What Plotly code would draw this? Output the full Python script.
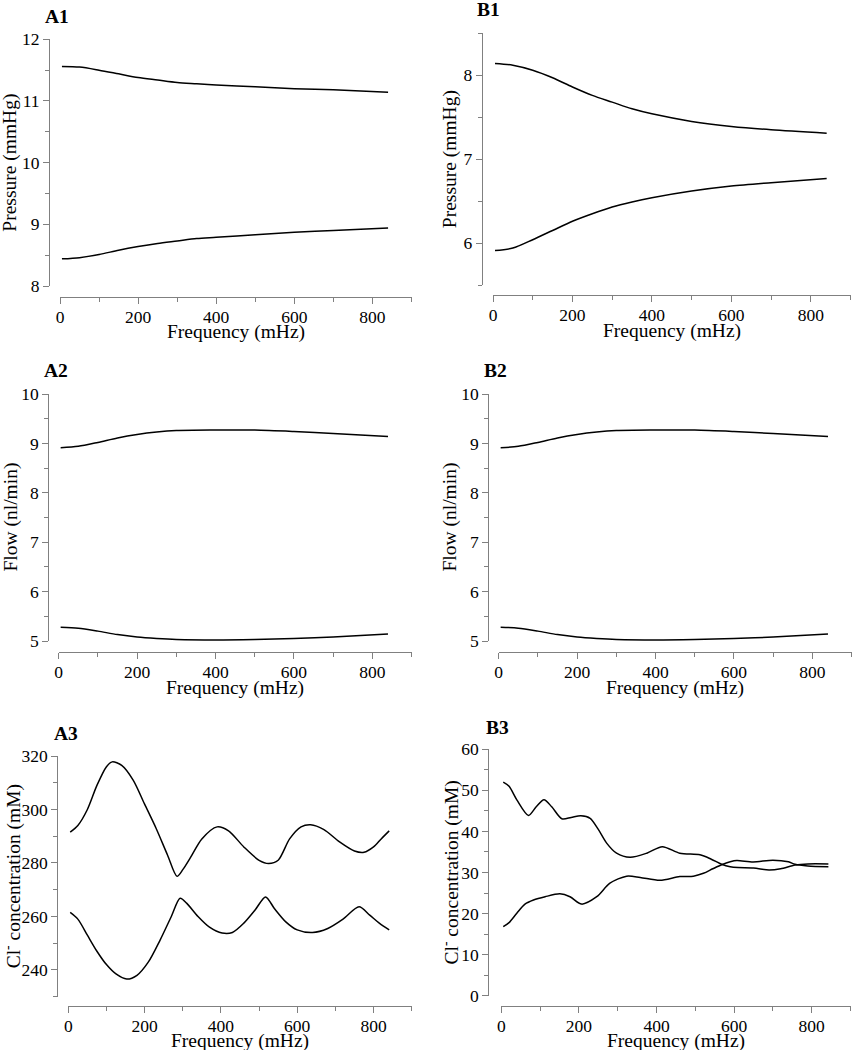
import plotly.graph_objects as go

# ---------------- data ----------------
a1_freq = [5, 50, 100, 150, 200, 250, 300, 350, 400, 500, 600, 700, 840]
a1_upper = [11.56, 11.55, 11.50, 11.44, 11.38, 11.34, 11.30, 11.28, 11.26, 11.23, 11.20, 11.18, 11.14]
a1_lower = [8.44, 8.46, 8.51, 8.58, 8.64, 8.69, 8.73, 8.77, 8.79, 8.83, 8.87, 8.90, 8.94]

b1_freq = [5, 50, 100, 150, 200, 250, 300, 350, 400, 500, 600, 700, 840]
b1_upper = [8.14, 8.12, 8.06, 7.97, 7.86, 7.76, 7.68, 7.60, 7.54, 7.45, 7.39, 7.35, 7.31]
b1_lower = [5.91, 5.94, 6.04, 6.15, 6.26, 6.35, 6.43, 6.49, 6.54, 6.62, 6.68, 6.72, 6.77]

a2_freq = [5, 50, 100, 150, 200, 250, 300, 400, 500, 600, 700, 840]
a2_upper = [8.91, 8.94, 9.02, 9.11, 9.18, 9.23, 9.26, 9.27, 9.27, 9.24, 9.20, 9.14]
a2_lower = [5.28, 5.26, 5.20, 5.13, 5.08, 5.05, 5.03, 5.02, 5.03, 5.05, 5.08, 5.14]

b2_freq = [5, 50, 100, 150, 200, 250, 300, 400, 500, 600, 700, 840]
b2_upper = [8.91, 8.94, 9.02, 9.11, 9.18, 9.23, 9.26, 9.27, 9.27, 9.24, 9.20, 9.14]
b2_lower = [5.28, 5.26, 5.20, 5.13, 5.08, 5.05, 5.03, 5.02, 5.03, 5.05, 5.08, 5.14]

a3_upper_freq = [5, 25, 50, 75, 100, 115, 140, 170, 200, 230, 260, 285, 300, 320, 350,
                 390, 420, 460, 500, 525, 550, 580, 610, 635, 670, 710, 750, 775, 800, 820, 841]
a3_upper = [291.5, 294, 300, 309, 316, 317.8, 316.5, 311, 302, 293, 283, 275, 277.5, 282, 289,
            293.5, 292, 286, 281, 279.8, 281, 289, 293.5, 294.3, 292.5, 288, 284.5, 284, 286, 289, 292]
a3_lower_freq = [5, 25, 50, 75, 100, 125, 153, 180, 210, 240, 270, 293, 310, 340, 370,
                 403, 430, 460, 490, 517, 540, 570, 600, 640, 680, 720, 762, 790, 815, 841]
a3_lower = [261.5, 259, 253, 247, 242, 238.5, 236.6, 238, 243, 251, 260, 266.8, 265, 260, 256,
            253.8, 254, 257.5, 262.5, 267.3, 263, 258, 255, 254, 255.5, 259, 263.6, 260.5, 257.5, 255]

b3_upper_freq = [5, 20, 40, 70, 90, 110, 130, 156, 180, 205, 229, 250, 272, 297, 332, 375,
                 415, 460, 512, 540, 568, 590, 610, 650, 690, 720, 757, 790, 843]
b3_upper = [52.0, 51.0, 47.7, 43.9, 46.0, 47.7, 46.0, 43.1, 43.4, 43.8, 43.2, 40.5, 37.1, 34.7, 33.7, 34.7,
            36.3, 34.7, 34.3, 33.3, 32.0, 31.4, 31.2, 31.1, 30.6, 30.9, 31.8, 32.1, 32.1]
b3_lower_freq = [5, 20, 40, 61, 83, 113, 151, 177, 207, 246, 280, 323, 358, 409, 460, 495,
                 521, 545, 568, 590, 607, 649, 700, 740, 757, 790, 843]
b3_lower = [16.8, 17.8, 20.1, 22.3, 23.3, 24.1, 24.8, 24.1, 22.3, 24.1, 27.4, 29.1, 28.8, 28.1, 29.0, 29.1,
            29.8, 30.9, 31.9, 32.6, 32.9, 32.55, 33.0, 32.6, 32.0, 31.6, 31.4]

x_title = "Frequency (mHz)"
pressure_title = "Pressure (mmHg)"
flow_title = "Flow (nl/min)"
cl_title = "Cl<sup>-</sup> concentration (mM)"

# ---------------- layout geometry (pixels) ----------------
W, H = 852, 1050
FONT = "Liberation Serif"
AXIS_COLOR = "#808080"

panels = [
    dict(label="A1", x0=60, x1=411.5, yax_x=49, ytop=39.3, ybot=286, xax_y=296.5,
         yrange=[8, 12], dtick=1, minor=0.5, ytitle=pressure_title,
         series=[(a1_freq, a1_upper), (a1_freq, a1_lower)], lab=(43, 16.5), xt=332, yt=10),
    dict(label="B1", x0=493, x1=850.5, yax_x=481.7, ytop=33.3, ybot=285, xax_y=295,
         yrange=[5.5, 8.5], dtick=1, minor=0.5, ytitle=pressure_title,
         series=[(b1_freq, b1_upper), (b1_freq, b1_lower)], lab=(475, 10), xt=331, yt=450),
    dict(label="A2", x0=58.7, x1=411.5, yax_x=48.3, ytop=394, ybot=641, xax_y=652.3,
         yrange=[5, 10], dtick=1, minor=0.5, ytitle=flow_title,
         series=[(a2_freq, a2_upper), (a2_freq, a2_lower)], lab=(42, 370), xt=688, yt=10),
    dict(label="B2", x0=498.7, x1=851.5, yax_x=488.3, ytop=394, ybot=641, xax_y=652.3,
         yrange=[5, 10], dtick=1, minor=0.5, ytitle=flow_title,
         series=[(b2_freq, b2_upper), (b2_freq, b2_lower)], lab=(482, 370), xt=688, yt=449),
    dict(label="A3", x0=68.3, x1=411.7, yax_x=57.3, ytop=756, ybot=996.7, xax_y=1006,
         yrange=[230, 320], dtick=20, minor=10, ytitle=cl_title,
         series=[(a3_upper_freq, a3_upper), (a3_lower_freq, a3_lower)], lab=(52, 733), xt=1041, yt=12),
    dict(label="B3", x0=501.3, x1=850.5, yax_x=488.3, ytop=749.3, ybot=995.7, xax_y=1005.7,
         yrange=[0, 60], dtick=10, minor=5, ytitle=cl_title,
         series=[(b3_upper_freq, b3_upper), (b3_lower_freq, b3_lower)], lab=(484, 727), xt=1041, yt=450),
]

fig = go.Figure()
layout = dict(
    width=W, height=H, margin=dict(l=0, r=0, t=0, b=0, pad=0, autoexpand=False),
    paper_bgcolor="white", plot_bgcolor="white", showlegend=False,
    font=dict(family=FONT, size=17, color="black"),
    annotations=[],
)

tickfont = dict(family=FONT, size=17.5, color="black")
titlefont = dict(family=FONT, size=19.5, color="black")

for i, p in enumerate(panels):
    n = "" if i == 0 else str(i + 1)
    for xs, ys in p["series"]:
        fig.add_trace(go.Scatter(
            x=xs, y=ys, mode="lines", xaxis="x" + n, yaxis="y" + n,
            line=dict(color="black", width=1.5, shape="spline", smoothing=0.8),
            hoverinfo="skip"))
    layout["xaxis" + n] = dict(
        domain=[p["x0"] / W, p["x1"] / W], range=[0, 900],
        anchor="free", position=1 - p["xax_y"] / H, automargin=False,
        tick0=0, dtick=200, ticks="outside", ticklen=6, tickwidth=1, tickcolor=AXIS_COLOR,
        ticklabelstandoff=-2,
        minor=dict(dtick=100, ticks="outside", ticklen=4, tickwidth=1, tickcolor=AXIS_COLOR),
        showline=True, linecolor=AXIS_COLOR, linewidth=1,
        showgrid=False, zeroline=False, tickfont=tickfont,
        fixedrange=True,
    )
    layout["yaxis" + n] = dict(
        domain=[1 - p["ybot"] / H, 1 - p["ytop"] / H], range=p["yrange"],
        anchor="free", position=p["yax_x"] / W, automargin=False,
        tick0=0, dtick=p["dtick"],
        ticks="outside", ticklen=6, tickwidth=1, tickcolor=AXIS_COLOR,
        minor=dict(dtick=p["minor"], ticks="outside", ticklen=4, tickwidth=1, tickcolor=AXIS_COLOR),
        showline=True, linecolor=AXIS_COLOR, linewidth=1,
        showgrid=False, zeroline=False, tickfont=tickfont,
        fixedrange=True,
    )
    # x-axis title, centred under the axis line
    layout["annotations"].append(dict(
        text=x_title, xref="paper", yref="paper",
        x=(p["x0"] + p["x1"]) / 2 / W, y=1 - p["xt"] / H, xanchor="center", yanchor="middle",
        showarrow=False, font=titlefont))
    # y-axis title, rotated, centred on the axis line
    layout["annotations"].append(dict(
        text=p["ytitle"], xref="paper", yref="paper", textangle=-90,
        x=p["yt"] / W, y=1 - (p["ytop"] + p["ybot"]) / 2 / H, xanchor="center", yanchor="middle",
        showarrow=False, font=titlefont))
    # panel label
    layout["annotations"].append(dict(
        text="<b>" + p["label"] + "</b>", xref="paper", yref="paper",
        x=p["lab"][0] / W, y=1 - p["lab"][1] / H, xanchor="left", yanchor="middle",
        showarrow=False, font=dict(family=FONT, size=19.5, color="black")))

fig.update_layout(**layout)
fig.write_html("out.html", config={"displayModeBar": False, "staticPlot": True},
               post_script="document.body.style.margin='0';")
